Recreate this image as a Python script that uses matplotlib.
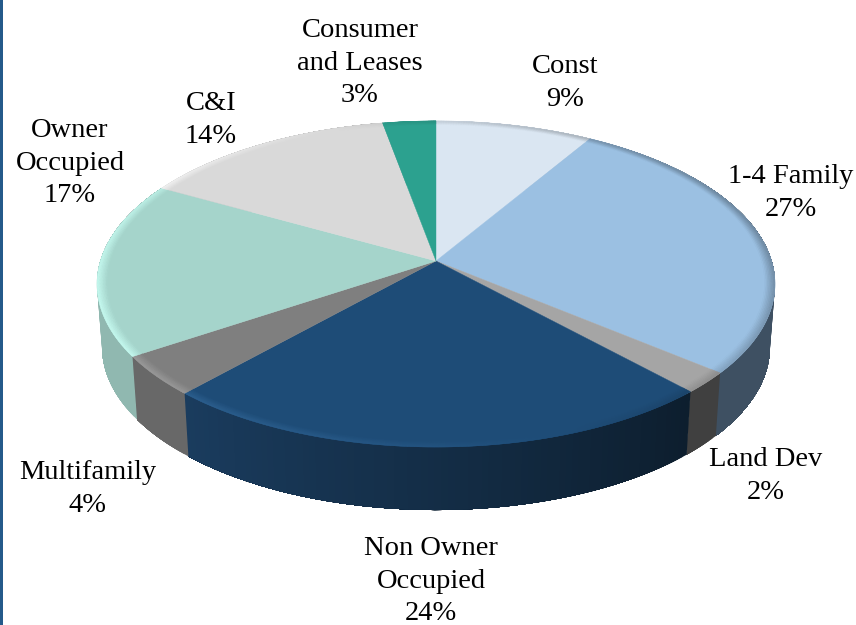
import matplotlib
matplotlib.use('Agg')
import matplotlib.pyplot as plt
from matplotlib.collections import PolyCollection
from matplotlib.colors import to_rgb
from matplotlib.patches import Rectangle
import numpy as np

# data, clockwise from 12 o'clock (labels show them rounded)
names = ['Const', '1-4 Family', 'Land Dev', 'Non Owner\nOccupied', 'Multifamily',
         'Owner\nOccupied', 'C&I', 'Consumer\nand Leases']
values = [8.6, 27.4, 2.1, 23.6, 4.0, 17.4, 14.0, 2.9]

top_colors = ['#DAE6F2', '#9BC0E2', '#A5A5A5', '#1E4C77', '#7F7F7F', '#A5D4CB', '#D9D9D9', '#2CA18F']
wall_right = ['#B0BAC4', '#3E5062', '#404040', '#0D1E2E', '#686868', '#90B8B0', '#A8A8A8', '#1F7A6C']
wall_left = ['#B0BAC4', '#3E5062', '#404040', '#1A3C5E', '#686868', '#90B8B0', '#A8A8A8', '#1F7A6C']

# label centres in pixels
label_pos = [(565, 83), (791, 193), (766, 476), (431, 581), (88, 489), (70, 163), (211, 120), (360, 63)]

# pie geometry in pixels
cx, cy = 436, 261
ax_x, ax_y = 335.6, 159.8
persp = 0.141
depth = 63
shrink = 0.985


def project(theta, r=1.0):
    # theta in degrees, clockwise from the back of the disc
    t = np.radians(theta)
    u, v = r * np.sin(t), r * np.cos(t)
    d = 1 + persp * v
    return cx + ax_x * u / d, cy - ax_y * v / d


def mix(c, other, amount):
    return tuple((1 - amount) * np.array(c) + amount * np.array(other))


fig = plt.figure(figsize=(8.56, 6.25), dpi=100)
ax = fig.add_axes([0, 0, 1, 1])
ax.set_xlim(0, 856)
ax.set_ylim(625, 0)
ax.axis('off')

# blue strip on the left edge
ax.add_patch(Rectangle((0, 0), 3.5, 625, color='#245A8A', lw=0))

edges = np.cumsum([0] + values) / sum(values) * 360

# side walls, each step painted over the rest of the slice so no seams show
for i in range(len(values)):
    th = np.arange(edges[i], edges[i + 1] + 1, 1.0)
    th[-1] = edges[i + 1]
    x, y = project(th)
    x2 = cx + (x - cx) * shrink
    y2 = y + depth
    for k in range(len(th) - 1):
        c = mix(to_rgb(wall_right[i]), to_rgb(wall_left[i]), k / max(len(th) - 2, 1))
        ax.fill(np.r_[x[k:], x2[k:][::-1]], np.r_[y[k:], y2[k:][::-1]], color=c, lw=0)

# top surface
for i in range(len(values)):
    th = np.arange(edges[i], edges[i + 1] + 0.5, 0.5)
    th[-1] = edges[i + 1]
    x, y = project(th)
    ax.fill(np.r_[cx, x], np.r_[cy, y], color=top_colors[i], lw=0.3)

# bevel along the rim, light from the lower left
radii = np.linspace(0.97, 1.0, 8)
for i in range(len(values)):
    base = np.array(to_rgb(top_colors[i]))
    th = np.arange(edges[i], edges[i + 1] + 0.5, 0.5)
    th[-1] = edges[i + 1]
    quads, cols = [], []
    for r0, r1 in zip(radii[:-1], radii[1:]):
        amount = ((r0 + r1) / 2 - radii[0]) / (1 - radii[0])
        for a, b in zip(th[:-1], th[1:]):
            xa0, ya0 = project(a, r0)
            xb0, yb0 = project(b, r0)
            xa1, ya1 = project(a, r1)
            xb1, yb1 = project(b, r1)
            quads.append([(xa0, ya0), (xb0, yb0), (xb1, yb1), (xa1, ya1)])
            light = np.cos(np.radians((a + b) / 2 - 250))
            if light > 0:
                lit = np.clip(base * 1.12 + 0.05, 0, 1)
                cols.append(mix(base, lit, amount * light))
            else:
                cols.append(mix(base, (0, 0, 0), 0.3 * amount * -light))
    ax.add_collection(PolyCollection(quads, facecolors=cols, edgecolors=cols, linewidths=0.3))

# labels
for name, v, (lx, ly) in zip(names, values, label_pos):
    ax.text(lx, ly, f'{name}\n{round(v)}%', ha='center', va='center', fontsize=20.5,
            family='Liberation Serif', color='black', linespacing=1.38)

fig.savefig('out.png', dpi=100)
